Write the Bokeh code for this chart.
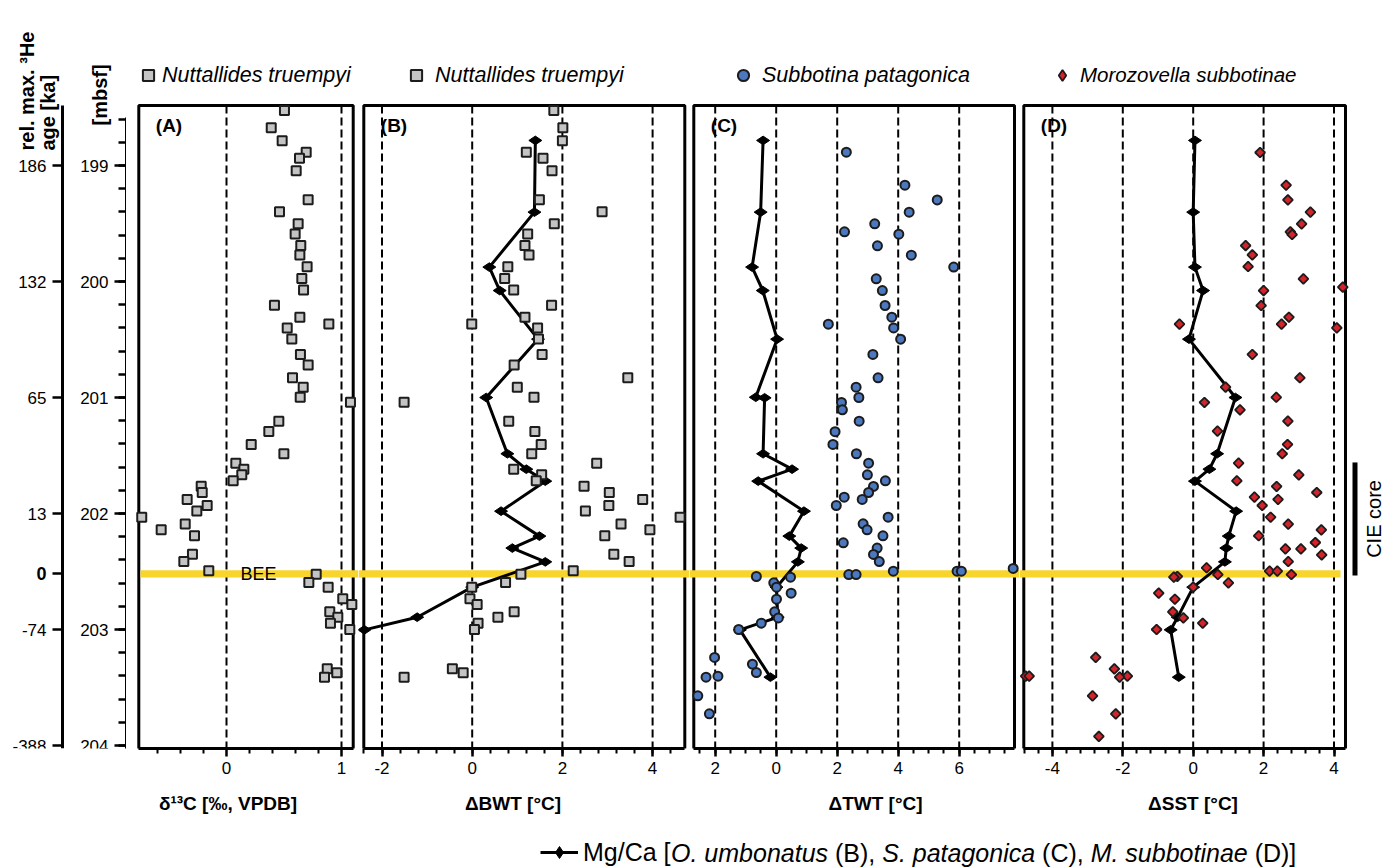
import math
from bokeh.plotting import figure
from bokeh.models import (Range1d, FixedTicker, LinearAxis, BoxAnnotation, Label,
                          Legend, LegendItem, ColumnDataSource)
from bokeh.core.properties import value
from bokeh.layouts import row, column
from bokeh.embed import file_html
from bokeh.resources import INLINE

FONT = "Liberation Sans"

# ---------------- data ----------------
# Nuttallides truempyi samples (panels A and B share the sample depths) [mbsf]
nt_depth = [198.526, 198.675, 198.787, 198.885, 198.937, 199.046, 199.296, 199.398, 199.503,
            199.590, 199.690, 199.771, 199.872, 199.974, 200.073, 200.204, 200.308, 200.366,
            200.400, 200.495, 200.629, 200.720, 200.829, 200.911, 200.998, 201.041, 201.204,
            201.293, 201.405, 201.485, 201.566, 201.618, 201.667, 201.717, 201.765, 201.819,
            201.879, 201.930, 201.979, 202.032, 202.090, 202.141, 202.192, 202.351, 202.414,
            202.494, 202.524, 202.595, 202.635, 202.735, 202.784, 202.848, 202.895, 202.946,
            203.000, 203.339, 203.373, 203.411]
d13c = [0.504, 0.389, 0.484, 0.693, 0.635, 0.606, 0.710, 0.461, 0.623,
        0.597, 0.646, 0.638, 0.701, 0.655, 0.670, 0.417, 0.638, 0.890,
        0.528, 0.568, 0.643, 0.710, 0.574, 0.667, 0.641, 1.078, 0.455,
        0.368, 0.215, 0.499, 0.081, 0.151, 0.133, 0.058, -0.220, -0.211,
        -0.342, -0.168, -0.258, -0.737, -0.359, -0.568, -0.278, -0.296, -0.371,
        -0.154, 0.780, 0.716, 0.884, 1.011, 1.090, 0.898, 0.968, 0.904,
        1.072, 0.876, 0.959, 0.852]
dbwt = [1.81, 2.01, 2.00, 1.20, 1.57, 1.77, 1.49, 2.88, 1.82,
        1.23, 1.17, 1.26, 0.79, 0.72, 0.92, 1.76, 1.17, -0.01,
        1.45, 1.47, 1.55, 0.93, 3.45, 1.00, 1.37, -1.51, 0.81,
        1.39, 1.53, 1.32, 2.76, 0.92, 1.54, 1.42, 2.48, 3.04,
        3.78, 3.03, 2.51, 4.61, 3.30, 3.94, 2.94, 3.14, 3.48,
        2.24, 1.08, 0.74, -0.01, -0.05, 0.11, 0.93, 0.57, 0.13,
        0.05, -0.44, -0.20, -1.51]

# Subbotina patagonica (panel C)
sp_depth = [198.885, 199.170, 199.297, 199.402, 199.503, 199.572, 199.592, 199.692, 199.773,
            199.876, 199.977, 200.078, 200.207, 200.308, 200.368, 200.400, 200.497, 200.629,
            200.830, 200.911, 201.000, 201.043, 201.106, 201.204, 201.295, 201.405, 201.485,
            201.566, 201.667, 201.718, 201.767, 201.819, 201.859, 201.879, 201.931, 202.032,
            202.089, 202.141, 202.192, 202.253, 202.298, 202.353, 202.414, 202.474, 202.497,
            202.497, 202.497, 202.526, 202.526, 202.543, 202.549, 202.598, 202.635, 202.687,
            202.739, 202.848, 202.900, 202.946, 203.000, 203.241, 203.299, 203.371, 203.402,
            203.411, 203.572, 203.727]
dtwt = [2.30, 4.22, 5.28, 4.36, 3.23, 2.24, 4.02, 3.32, 4.43,
        5.82, 3.28, 3.48, 3.57, 3.79, 1.71, 3.85, 4.08, 3.17,
        3.34, 2.62, 2.71, 2.14, 2.17, 2.72, 1.93, 1.86, 2.63,
        3.03, 2.99, 3.58, 3.19, 3.03, 2.23, 2.82, 1.97, 3.67,
        2.85, 2.98, 3.50, 2.20, 3.31, 3.19, 3.38, 7.77, 3.84,
        5.93, 6.07, 2.38, 2.62, -0.65, 0.47, -0.08, 0.01, 0.49,
        0.01, -0.05, 0.07, -0.49, -1.23, -2.02, -0.78, -0.65, -1.91,
        -2.30, -2.57, -2.19]

# Morozovella subbotinae (panel D)
ms_depth = [198.888, 199.170, 199.297, 199.402, 199.503, 199.572, 199.595, 199.690, 199.770,
            199.871, 199.977, 200.049, 200.078, 200.207, 200.308, 200.368, 200.368, 200.400,
            200.629, 200.830, 200.911, 200.998, 201.043, 201.106, 201.204, 201.290, 201.405,
            201.485, 201.566, 201.667, 201.718, 201.767, 201.819, 201.859, 201.879, 201.931,
            202.032, 202.092, 202.141, 202.192, 202.250, 202.305, 202.305, 202.356, 202.414,
            202.468, 202.497, 202.497, 202.526, 202.526, 202.543, 202.549, 202.598, 202.635,
            202.687, 202.739, 202.848, 202.900, 202.946, 203.000, 203.241, 203.339, 203.402,
            203.402, 203.402, 203.411, 203.572, 203.727, 203.922]
dsst = [1.90, 2.64, 2.69, 3.33, 3.08, 2.76, 2.81, 1.49, 1.68,
        1.56, 3.13, 4.25, 2.00, 1.93, 2.72, 2.51, -0.39, 4.08,
        1.68, 3.03, 0.92, 2.36, 0.32, 1.33, 2.69, 0.69, 2.68,
        2.53, 1.29, 3.00, 1.24, 2.37, 3.51, 1.74, 2.41, 1.96,
        2.20, 2.70, 3.64, 1.86, 3.47, 2.62, 3.06, 3.65, 2.70,
        0.38, 2.17, 2.39, 2.79, 0.70, -0.45, -0.55, 1.00, 0.00,
        -0.98, -0.52, -0.58, -0.28, 0.27, -1.04, -2.77, -2.24, -1.87,
        -4.76, -4.66, -2.09, -2.86, -2.20, -2.68]

# Mg/Ca based temperature anomalies
mg_depth = [198.784, 199.402, 199.876, 200.078, 200.497, 201.000, 201.485, 201.618, 201.721,
            201.980, 202.195, 202.298, 202.417, 202.635, 202.894, 203.003, 203.411]
mg_bwt = [1.40, 1.38, 0.38, 0.61, 1.46, 0.31, 0.78, 1.20, 1.62,
          0.64, 1.49, 0.89, 1.62, 0.00, -1.22, -2.39]
mg_twt_depth = [198.784, 199.402, 199.876, 200.078, 200.497, 200.998, 201.003, 201.485, 201.618,
                201.721, 201.980, 202.195, 202.298, 202.417, 202.635, 202.894, 203.003, 203.411]
mg_twt = [-0.43, -0.51, -0.79, -0.44, 0.03, -0.67, -0.38, -0.43, 0.52,
          -0.59, 0.91, 0.43, 0.82, 0.71, 0.01, 0.05, -1.19, -0.19]
mg_sst = [0.05, 0.00, 0.05, 0.28, -0.12, 1.20, 0.68, 0.46, 0.05,
          1.22, 1.01, 0.94, 0.90, 0.00, -0.44, -0.64, -0.41]

# axes / tick labels
mbsf_ticks = [199, 200, 201, 202, 203, 204]
mbsf_labels = ["199", "200", "201", "202", "203", "204"]
age_tick_depth = [199, 200, 201, 202, 202.52, 203, 204]
age_tick_labels = ["186", "132", "65", "13", "0", "-74", "-388"]
bee_depth = 202.52
cie_top, cie_bottom = 201.56, 202.534
xticks_A, xlabels_A = [0, 1], ["0", "1"]
xticks_B, xlabels_B = [-2, 0, 2, 4], ["-2", "0", "2", "4"]
xticks_C, xlabels_C = [-2, 0, 2, 4, 6], ["2", "0", "2", "4", "6"]
xticks_D, xlabels_D = [-4, -2, 0, 2, 4], ["-4", "-2", "0", "2", "4"]

# ---------------- styling / geometry ----------------
GREY = "#c4c4c4"
BLUE = "#4b78be"
RED = "#d3242b"
DARK = "#1c1c1c"
YELLOW = "#f8d52c"

PX_PER_M = 116.0
FRAME_H = 748          # frames run from the page top down to the x axes
AXIS_B = 37            # room for the x tick labels
STRIP_H = 868 - FRAME_H - AXIS_B


def depth_at(py):
    return 199 + (py - 165) / PX_PER_M


TOP_D = depth_at(0)
BOT_D = depth_at(FRAME_H)
PANEL_TOP = depth_at(105)
depth_range = Range1d(start=BOT_D, end=TOP_D)

panels = {
    "A": dict(zero=226.0, ppu=115.0, fl=126, fr=358, bl=138.3, br=352.7),
    "B": dict(zero=471.7, ppu=45.1, fl=358, fr=689, bl=363.3, br=684.3),
    "C": dict(zero=775.7, ppu=30.5, fl=689, fr=1019, bl=693.3, br=1014.0),
    "D": dict(zero=1192.7, ppu=35.2, fl=1019, fr=1395, bl=1023.3, br=1345.0),
}


def U(sp, px):
    return (px - sp["zero"]) / sp["ppu"]


def clean(p):
    p.outline_line_color = None
    p.xgrid.visible = False
    p.ygrid.visible = False
    p.background_fill_color = "white"
    p.border_fill_color = "white"


def base_fig(sp):
    p = figure(frame_width=sp["fr"] - sp["fl"], frame_height=FRAME_H,
               min_border_left=0, min_border_right=0,
               min_border_top=0, min_border_bottom=AXIS_B,
               x_range=Range1d(U(sp, sp["fl"]), U(sp, sp["fr"])), y_range=depth_range,
               y_axis_location=None, output_backend="svg", toolbar_location=None)
    clean(p)
    return p


def style_xaxis(p, sp, ticks, labels, minors):
    ax = p.xaxis[0]
    ax.ticker = FixedTicker(ticks=ticks, minor_ticks=minors)
    ax.bounds = (U(sp, sp["bl"]), U(sp, sp["br"]))
    ax.axis_line_width = 3
    ax.axis_line_color = "black"
    ax.major_tick_out = 8
    ax.major_tick_in = 0
    ax.major_tick_line_width = 2.5
    ax.minor_tick_out = 5
    ax.minor_tick_in = 0
    ax.minor_tick_line_width = 2
    ax.major_label_text_font = FONT
    ax.major_label_text_font_size = "17px"
    ax.major_label_text_color = "black"
    ax.major_label_standoff = 5
    ax.major_label_overrides = dict(zip(ticks, labels))


def txt_label(**kw):
    kw.setdefault("text_font", FONT)
    kw.setdefault("text_color", "black")
    return Label(**kw)


def decorate(p, sp, key, dashes, yellow_left=None, yellow_right=None):
    n = len(dashes)
    seg = p.segment(x0=dashes, y0=[PANEL_TOP] * n, x1=dashes, y1=[BOT_D] * n,
                    line_color="black", line_width=2, line_dash="8 4")
    seg.level = "underlay"
    p.add_layout(BoxAnnotation(left=U(sp, sp["bl"]), right=U(sp, sp["br"]),
                               top=PANEL_TOP, bottom=BOT_D,
                               fill_color=None, fill_alpha=0, line_color="black",
                               line_alpha=1, line_width=3, level="underlay"))
    p.add_layout(BoxAnnotation(left=yellow_left, right=yellow_right,
                               top=bee_depth - 0.031, bottom=bee_depth + 0.031,
                               fill_color=YELLOW, fill_alpha=1, line_color=None,
                               level="underlay"))
    p.add_layout(txt_label(x=U(sp, sp["bl"]) + 17 / sp["ppu"], y=depth_at(125), text="(%s)" % key,
                           text_font_size="19px", text_font_style="bold",
                           text_baseline="middle", text_align="left"))


def top_legend(p, sp, r, text, marker_px, standoff=0, fs="21.5px"):
    gw = gh = 28
    sx = marker_px - gw / 2
    sy = 75 - gh / 2
    leg = Legend(items=[LegendItem(label=text, renderers=[r])],
                 location=(sx - sp["fl"], FRAME_H - sy - gh), orientation="horizontal",
                 padding=0, margin=0, glyph_width=gw, glyph_height=gh,
                 label_standoff=standoff, label_text_font=FONT, label_text_font_size=fs,
                 label_text_font_style="italic", label_text_color="black",
                 border_line_color=None, background_fill_alpha=0)
    p.add_layout(leg)


def mgca(p, xs, ys):
    p.line(xs, ys, line_color="black", line_width=3)
    p.scatter(xs, ys, marker="diamond", angle=math.pi / 2, size=13,
              fill_color="black", line_color="black", line_width=1)


# ---------------- left strip: age and depth axes ----------------
p0 = figure(frame_width=126, frame_height=FRAME_H, min_border_left=0, min_border_right=0,
            min_border_top=0, min_border_bottom=AXIS_B,
            x_range=Range1d(0, 126), y_range=depth_range,
            x_axis_location=None, y_axis_location=None,
            output_backend="svg", toolbar_location=None)
clean(p0)


def vaxis(ticks, minors, bounds, tick_len, minor_len, fixed=None):
    # axis line and ticks only; its tick labels are drawn as text in the frame
    ax = LinearAxis(ticker=FixedTicker(ticks=ticks, minor_ticks=minors), bounds=bounds,
                    fixed_location=fixed, axis_line_width=3, axis_line_color="black",
                    major_tick_in=tick_len, major_tick_out=0, major_tick_line_width=2.5,
                    minor_tick_in=minor_len, minor_tick_out=0, minor_tick_line_width=2.5,
                    major_label_overrides={t: "" for t in ticks},
                    major_label_text_color=None, major_label_text_font_size="1px",
                    major_label_standoff=0)
    return ax


p0.add_layout(vaxis(mbsf_ticks, [round(198.6 + 0.2 * k, 1) for k in range(28)],
                    (198.59, BOT_D), 12, 8), "right")
p0.add_layout(vaxis(age_tick_depth, [], (PANEL_TOP, BOT_D), 10, 0, fixed=62), "right")

depth_src = ColumnDataSource(dict(y=mbsf_ticks, t=mbsf_labels))
p0.text(x=108, y="y", text="t", source=depth_src, text_font=value(FONT),
        text_font_size="17px", text_color="black", text_align="right", text_baseline="middle")
age_src = ColumnDataSource(dict(y=age_tick_depth, t=age_tick_labels,
                                st=["bold" if t == "0" else "normal" for t in age_tick_labels],
                                fs=["18px" if t == "0" else "17px" for t in age_tick_labels]))
p0.text(x=46, y="y", text="t", source=age_src, text_font=value(FONT),
        text_font_size="fs", text_font_style="st", text_color="black",
        text_align="right", text_baseline="middle")
for xx, yy, tt in [(26.5, 150, "rel. max. \u00b3He"), (47, 150, "age [ka]"), (99, 125, "[mbsf]")]:
    p0.add_layout(txt_label(x=xx, y=depth_at(yy), text=tt, angle=math.pi / 2,
                            text_font_size="20px", text_font_style="bold",
                            text_align="left", text_baseline="middle"))

# ---------------- panel A ----------------
sA = panels["A"]
pA = base_fig(sA)
decorate(pA, sA, "A", xticks_A, yellow_left=U(sA, 140))
rA = pA.scatter(d13c, nt_depth, marker="square", size=9, fill_color=GREY,
                line_color=DARK, line_width=2)
style_xaxis(pA, sA, xticks_A, xlabels_A, [-0.6, -0.4, -0.2, 0.2, 0.4, 0.6, 0.8])
pA.add_layout(txt_label(x=U(sA, 258), y=bee_depth, text="BEE",
                        text_font_size="18px", text_align="center", text_baseline="middle"))
top_legend(pA, sA, rA, "Nuttallides truempyi", 148, standoff=-2)

# ---------------- panel B ----------------
sB = panels["B"]
pB = base_fig(sB)
decorate(pB, sB, "B", xticks_B)
mgca(pB, mg_bwt, mg_depth[:len(mg_bwt)])
rB = pB.scatter(dbwt, nt_depth, marker="square", size=9, fill_color=GREY,
                line_color=DARK, line_width=2)
style_xaxis(pB, sB, xticks_B, xlabels_B, [round(0.4 * k, 1) for k in range(-6, 12)])
top_legend(pB, sB, rB, "Nuttallides truempyi", 416, standoff=5)

# ---------------- panel C ----------------
sC = panels["C"]
pC = base_fig(sC)
decorate(pC, sC, "C", xticks_C)
mgca(pC, mg_twt, mg_twt_depth)
rC = pC.scatter(dtwt, sp_depth, marker="circle", size=9, fill_color=BLUE,
                line_color=DARK, line_width=2)
style_xaxis(pC, sC, xticks_C, xlabels_C, [0.5 * k for k in range(-5, 16)])
top_legend(pC, sC, rC, "Subbotina patagonica", 743, standoff=5)

# ---------------- panel D ----------------
sD = panels["D"]
pD = base_fig(sD)
decorate(pD, sD, "D", xticks_D, yellow_right=U(sD, 1340))
mgca(pD, mg_sst, mg_depth)
# small diamond marker (hidden under the rotated squares) that supplies the legend sample,
# since legend samples are drawn unrotated
rD_leg = pD.scatter(dsst, ms_depth, marker="diamond", size=7, fill_color=RED, line_color=DARK,
                    line_width=1.8)
rD = pD.scatter(dsst, ms_depth, marker="square", angle=math.pi / 4, size=7, fill_color=RED,
                line_color=DARK, line_width=1.8)
style_xaxis(pD, sD, xticks_D, xlabels_D, [round(0.4 * k, 1) for k in range(-12, 11)])
top_legend(pD, sD, rD_leg, "Morozovella subbotinae", 1062, standoff=4, fs="20.5px")
pD.add_layout(BoxAnnotation(left=U(sD, 1352), right=U(sD, 1357), top=cie_top, bottom=cie_bottom,
                            fill_color="black", fill_alpha=1, line_color=None))
pD.add_layout(txt_label(x=U(sD, 1373), y=(cie_top + cie_bottom) / 2, text="CIE core",
                        angle=math.pi / 2, text_font_size="20px",
                        text_align="center", text_baseline="middle"))

# ---------------- bottom strip: axis titles and Mg/Ca legend ----------------
Y0 = FRAME_H + AXIS_B
pl = figure(frame_width=1395, frame_height=STRIP_H, min_border=0,
            x_range=Range1d(0, 1395), y_range=Range1d(868, Y0),
            x_axis_location=None, y_axis_location=None,
            output_backend="svg", toolbar_location=None)
clean(pl)
for px, title in [(227.5, "\u03b4\u00b9\u00b3C [\u2030, VPDB]"), (512.5, "\u0394BWT [\u00b0C]"),
                  (875, "\u0394TWT [\u00b0C]"), (1192.5, "\u0394SST [\u00b0C]")]:
    pl.add_layout(txt_label(x=px, y=803, text=title, text_font_size="19px",
                            text_font_style="bold", text_align="center", text_baseline="middle"))

# the Mg/Ca series plotted in this strip's own (pixel) coordinates lies outside its view,
# so it draws nothing but supplies the legend sample
mg_src = ColumnDataSource(dict(x=mg_sst, y=mg_depth))
lr = pl.line("x", "y", source=mg_src, line_color="black", line_width=3)
sr = pl.scatter("x", "y", source=mg_src, marker="diamond", fill_color="black",
                line_color="black", line_width=1)
LEG_FS = 25
segments = [("Mg/Ca [", "normal"), ("O. umbonatus", "italic"), (" (B), ", "normal"),
            ("S. patagonica", "italic"), (" (C), ", "normal"), ("M. subbotinae", "italic"),
            (" (D)]", "normal")]
AW = {' ': 278, '[': 278, ']': 278, '(': 333, ')': 333, ',': 278, '.': 278, '/': 278,
      'M': 833, 'g': 556, 'C': 722, 'a': 556, 'O': 778, 'u': 556, 'm': 833, 'b': 556,
      'o': 556, 'n': 556, 't': 278, 's': 500, 'B': 667, 'S': 667, 'p': 556, 'i': 222,
      'c': 500, 'D': 722, 'e': 556}


def tw(s):
    return sum(AW.get(c, 556) for c in s) * LEG_FS / 1000.0


LEG_Y = 852
gh = 30
leg = Legend(items=[LegendItem(label=segments[0][0], renderers=[lr, sr])],
             location=(540, 868 - (LEG_Y + gh / 2)), padding=0, margin=0,
             glyph_width=38, glyph_height=gh,
             label_standoff=5, label_text_font=FONT, label_text_font_size="%dpx" % LEG_FS,
             label_text_color="black", border_line_color=None, background_fill_alpha=0)
pl.add_layout(leg)
cursor = 583 + tw(segments[0][0])
for txt, style in segments[1:]:
    lead = len(txt) - len(txt.lstrip(" "))
    cursor += tw(" " * lead)
    core = txt.strip(" ")
    pl.add_layout(txt_label(x=cursor, y=LEG_Y, text=core,
                            text_font_size="%dpx" % LEG_FS, text_font_style=style,
                            text_align="left", text_baseline="middle"))
    cursor += tw(core) + tw(" " * (len(txt) - lead - len(core)))

layout = column(row(p0, pA, pB, pC, pD, spacing=0), pl, spacing=0)
open("out.html", "w").write(file_html(layout, INLINE))
